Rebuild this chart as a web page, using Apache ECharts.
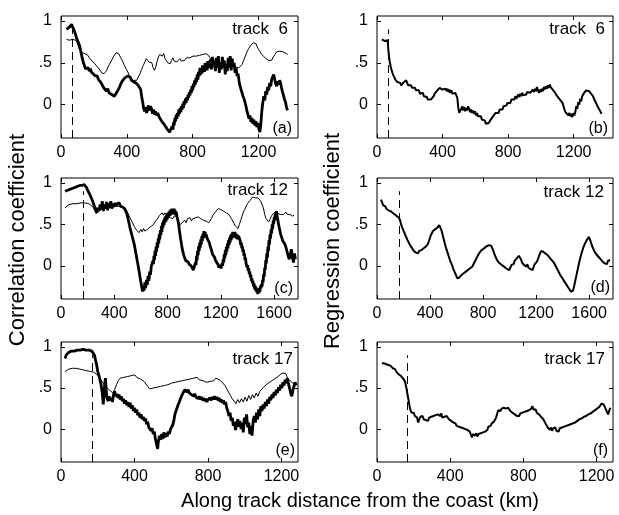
<!DOCTYPE html>
<html>
<head>
<meta charset="utf-8">
<script src="https://cdn.jsdelivr.net/npm/echarts@6/dist/echarts.min.js"></script>
<style>
  html, body { margin: 0; padding: 0; background: #fff; }
  #chart { width: 619px; height: 515px; }
</style>
</head>
<body>
<div id="chart"></div>
<script>
// distance along track (km), coefficient
var corr6Thin = [[34,.78],[42,.80],[50,.77],[60,.79],[70,.78],[80,.80],[90,.77],[98,.74],[105,.70],[112,.66],[120,.64],[128,.62],[136,.64],[145,.61],[155,.62],[163,.59],[172,.56],[180,.55],[188,.52],[196,.53],[205,.49],[214,.47],[222,.45],[230,.43],[238,.41],[246,.38],[254,.36],[262,.37],[270,.39],[278,.41],[286,.45],[294,.48],[302,.51],[310,.54],[318,.57],[326,.59],[334,.62],[342,.64],[350,.61],[358,.58],[366,.55],[374,.52],[382,.48],[390,.45],[398,.42],[406,.39],[414,.35],[422,.32],[430,.30],[440,.29],[450,.27],[460,.29],[470,.33],[480,.37],[490,.42],[500,.47],[510,.51],[518,.55],[526,.53],[534,.51],[544,.49],[552,.50],[560,.44],[568,.41],[576,.45],[584,.52],[592,.57],[600,.60],[608,.62],[616,.58],[624,.61],[632,.55],[640,.53],[648,.50],[656,.48],[664,.49],[672,.53],[680,.56],[688,.52],[696,.54],[704,.51],[712,.52],[722,.55],[732,.52],[742,.54],[752,.53],[762,.56],[772,.54],[782,.56],[792,.55],[802,.58],[812,.56],[822,.58],[832,.57],[842,.59],[852,.58],[862,.60],[872,.62],[880,.61],[888,.62],[896,.59],[904,.56],[912,.55],[920,.53],[930,.54],[940,.52],[950,.53],[960,.50],[970,.51],[980,.49],[990,.50],[1000,.48],[1010,.49],[1020,.47],[1030,.48],[1040,.46],[1050,.47],[1060,.45],[1070,.46],[1080,.44],[1090,.45],[1100,.48],[1110,.53],[1120,.58],[1130,.63],[1140,.67],[1150,.70],[1160,.72],[1168,.74],[1176,.72],[1184,.73],[1192,.69],[1200,.66],[1210,.63],[1220,.60],[1230,.58],[1240,.56],[1250,.54],[1260,.53],[1270,.52],[1280,.53],[1290,.57],[1300,.60],[1310,.63],[1320,.65],[1330,.64],[1340,.66],[1350,.63],[1360,.64],[1370,.61],[1378,.60]];

var corr6Thick = [[34,.90],[40,.92],[46,.89],[52,.93],[58,.94],[64,.96],[70,.93],[76,.91],[82,.88],[88,.84],[94,.80],[100,.77],[106,.74],[112,.71],[118,.66],[124,.60],[130,.55],[136,.50],[142,.47],[148,.43],[154,.45],[160,.41],[166,.44],[172,.40],[178,.43],[184,.39],[190,.41],[196,.37],[204,.35],[212,.33],[220,.34],[228,.30],[236,.31],[244,.26],[252,.24],[260,.20],[268,.22],[276,.16],[284,.19],[292,.14],[300,.15],[308,.12],[316,.13],[324,.10],[332,.11],[340,.15],[348,.18],[356,.21],[364,.25],[372,.28],[380,.30],[388,.32],[396,.31],[404,.34],[412,.32],[420,.33],[428,.29],[436,.31],[444,.27],[452,.29],[460,.25],[468,.24],[476,.21],[484,.18],[490,.10],[496,.03],[502,-.04],[508,-.08],[514,-.03],[520,-.10],[526,-.06],[532,-.01],[538,-.07],[544,-.02],[550,-.05],[556,-.11],[562,-.06],[568,-.12],[574,-.08],[580,-.13],[588,-.10],[596,-.15],[604,-.17],[612,-.20],[620,-.19],[628,-.24],[636,-.26],[644,-.29],[652,-.31],[660,-.33],[668,-.29],[676,-.26],[680,-.30],[684,-.21],[688,-.25],[692,-.16],[696,-.20],[700,-.12],[704,-.17],[708,-.10],[712,-.14],[716,-.06],[720,-.11],[724,-.04],[728,-.09],[732,-.02],[736,-.06],[740,.01],[744,-.04],[748,.04],[752,.00],[756,.07],[760,.02],[764,.09],[768,.05],[772,.12],[776,.08],[780,.15],[784,.11],[788,.18],[792,.14],[796,.22],[800,.17],[804,.25],[808,.21],[812,.29],[816,.24],[820,.32],[824,.27],[828,.36],[832,.30],[836,.39],[840,.34],[844,.44],[848,.36],[852,.42],[856,.37],[860,.47],[864,.40],[868,.45],[872,.39],[876,.50],[880,.43],[884,.47],[888,.41],[892,.52],[896,.44],[900,.45],[908,.54],[914,.42],[920,.57],[926,.46],[932,.52],[938,.40],[944,.56],[950,.44],[956,.58],[962,.38],[968,.50],[974,.42],[980,.57],[986,.44],[992,.53],[998,.36],[1004,.49],[1010,.40],[1016,.56],[1022,.44],[1028,.58],[1034,.41],[1040,.55],[1046,.45],[1052,.50],[1058,.38],[1064,.44],[1070,.34],[1076,.37],[1082,.28],[1088,.22],[1094,.18],[1100,.14],[1106,.10],[1112,.07],[1118,.03],[1124,-.02],[1130,-.08],[1136,-.12],[1142,-.17],[1148,-.13],[1154,-.21],[1160,-.16],[1166,-.23],[1172,-.18],[1178,-.25],[1184,-.20],[1190,-.27],[1196,-.22],[1202,-.29],[1208,-.33],[1214,-.24],[1220,-.08],[1226,.02],[1232,.10],[1238,.05],[1244,.16],[1250,.12],[1256,.21],[1262,.17],[1268,.26],[1274,.22],[1280,.30],[1286,.28],[1292,.36],[1298,.31],[1304,.25],[1310,.22],[1316,.28],[1322,.24],[1328,.29],[1334,.26],[1340,.20],[1346,.15],[1352,.11],[1358,.06],[1364,.03],[1370,-.03],[1376,-.07]];

var regr6 = [[30,.78],[36,.79],[42,.77],[48,.76],[54,.75],[60,.77],[65,.77],[69,.66],[73,.58],[78,.51],[83,.46],[88,.42],[94,.38],[100,.35],[106,.33],[112,.30],[118,.29],[124,.27],[130,.28],[136,.25],[142,.26],[148,.23],[154,.25],[160,.26],[166,.24],[172,.27],[178,.29],[184,.26],[190,.23],[196,.25],[202,.21],[208,.23],[214,.20],[220,.22],[226,.19],[232,.20],[238,.17],[244,.19],[250,.15],[256,.17],[262,.13],[268,.15],[274,.12],[280,.14],[286,.10],[292,.12],[298,.08],[304,.09],[310,.06],[316,.07],[322,.04],[328,.06],[334,.08],[340,.07],[346,.10],[352,.13],[358,.12],[364,.16],[370,.18],[376,.17],[382,.20],[388,.19],[394,.21],[400,.18],[406,.20],[412,.17],[418,.19],[424,.16],[430,.19],[436,.15],[442,.18],[448,.14],[454,.17],[460,.13],[466,.15],[472,.12],[478,.14],[484,.11],[490,.08],[496,-.04],[502,-.10],[508,-.12],[514,-.05],[520,-.02],[526,-.07],[532,-.03],[538,-.08],[544,-.04],[550,-.07],[556,-.02],[562,-.05],[568,-.09],[574,-.06],[580,-.10],[586,-.07],[592,-.11],[598,-.08],[604,-.13],[610,-.10],[616,-.14],[622,-.12],[628,-.16],[634,-.14],[640,-.18],[646,-.17],[652,-.20],[658,-.19],[664,-.23],[670,-.21],[676,-.25],[682,-.22],[688,-.20],[694,-.18],[700,-.16],[706,-.17],[712,-.13],[718,-.14],[724,-.10],[730,-.12],[736,-.08],[742,-.10],[748,-.06],[754,-.08],[760,-.04],[766,-.06],[772,-.02],[778,-.03],[784,.00],[790,-.01],[796,.02],[802,.01],[808,.04],[814,.02],[820,.06],[826,.04],[832,.08],[838,.06],[844,.10],[850,.07],[856,.09],[862,.12],[868,.09],[874,.13],[880,.10],[886,.14],[892,.11],[898,.13],[904,.09],[910,.12],[916,.15],[922,.13],[928,.17],[934,.14],[940,.16],[946,.13],[952,.18],[958,.15],[964,.19],[970,.16],[976,.21],[982,.17],[988,.14],[994,.18],[1000,.15],[1006,.19],[1012,.16],[1018,.21],[1024,.18],[1030,.22],[1036,.19],[1042,.23],[1048,.20],[1054,.24],[1060,.21],[1066,.22],[1072,.18],[1078,.19],[1084,.15],[1090,.13],[1096,.11],[1102,.12],[1108,.08],[1114,.09],[1120,.05],[1126,.06],[1132,.02],[1138,-.02],[1144,-.06],[1150,-.09],[1156,-.11],[1162,-.08],[1168,-.13],[1174,-.10],[1180,-.14],[1186,-.11],[1192,-.15],[1198,-.10],[1204,-.13],[1210,-.09],[1216,-.02],[1222,-.05],[1228,.03],[1234,.00],[1240,.07],[1246,.04],[1252,.10],[1258,.08],[1264,.14],[1270,.12],[1276,.17],[1282,.15],[1288,.19],[1294,.16],[1300,.17],[1306,.13],[1312,.14],[1318,.10],[1324,.07],[1330,.05],[1336,.02],[1342,.00],[1348,-.03],[1354,-.04],[1360,-.07],[1366,-.09],[1370,-.11]];

var corr12Thin = [[30,.70],[45,.72],[60,.74],[75,.73],[90,.75],[105,.76],[120,.75],[135,.77],[150,.76],[165,.78],[180,.76],[195,.77],[210,.75],[225,.74],[240,.71],[255,.66],[265,.63],[275,.65],[285,.68],[300,.66],[315,.70],[330,.69],[345,.72],[360,.71],[375,.74],[390,.73],[405,.75],[420,.72],[435,.74],[450,.72],[465,.73],[480,.70],[495,.66],[510,.61],[525,.56],[540,.51],[555,.46],[570,.43],[585,.40],[600,.44],[610,.41],[620,.45],[630,.42],[640,.40],[650,.44],[660,.42],[670,.47],[680,.45],[690,.49],[700,.51],[710,.54],[720,.55],[730,.58],[740,.61],[750,.63],[760,.64],[770,.61],[780,.64],[790,.62],[800,.60],[810,.62],[820,.58],[830,.60],[840,.57],[850,.60],[860,.62],[870,.60],[880,.55],[890,.49],[900,.47],[910,.52],[920,.50],[930,.55],[940,.52],[950,.57],[960,.55],[970,.58],[980,.54],[990,.57],[1000,.55],[1010,.58],[1020,.56],[1030,.59],[1040,.60],[1050,.57],[1060,.59],[1070,.55],[1080,.57],[1090,.54],[1100,.55],[1110,.52],[1120,.53],[1130,.57],[1140,.61],[1150,.63],[1160,.65],[1170,.67],[1180,.69],[1190,.70],[1200,.68],[1210,.69],[1220,.66],[1230,.67],[1240,.64],[1250,.65],[1260,.62],[1270,.61],[1280,.57],[1290,.54],[1300,.51],[1310,.48],[1320,.47],[1330,.45],[1340,.50],[1350,.55],[1360,.60],[1370,.65],[1380,.68],[1390,.72],[1400,.75],[1410,.77],[1420,.79],[1430,.81],[1440,.83],[1450,.84],[1460,.82],[1470,.84],[1480,.82],[1490,.80],[1500,.78],[1510,.76],[1520,.70],[1530,.62],[1540,.57],[1550,.55],[1560,.53],[1570,.56],[1580,.60],[1590,.62],[1600,.64],[1610,.62],[1620,.66],[1630,.63],[1640,.65],[1650,.62],[1660,.64],[1670,.62],[1680,.64],[1690,.65],[1700,.62],[1710,.64],[1720,.62],[1730,.63],[1740,.60],[1750,.61]];

var corr12Thick = [[30,.90],[38,.92],[46,.91],[54,.93],[62,.92],[70,.94],[78,.93],[86,.95],[94,.94],[102,.96],[110,.95],[118,.97],[126,.96],[134,.98],[142,.97],[150,.99],[158,.97],[166,.99],[174,.98],[182,.97],[190,.95],[198,.92],[206,.90],[214,.87],[222,.84],[230,.81],[238,.78],[246,.74],[254,.72],[262,.68],[270,.64],[278,.70],[286,.66],[294,.74],[302,.68],[310,.78],[318,.66],[326,.74],[334,.69],[342,.77],[350,.67],[358,.76],[366,.70],[374,.78],[382,.69],[390,.75],[398,.71],[406,.76],[414,.72],[422,.75],[430,.73],[438,.76],[446,.72],[454,.74],[462,.71],[470,.73],[478,.69],[486,.67],[494,.63],[502,.58],[510,.52],[518,.46],[526,.41],[534,.36],[542,.31],[550,.26],[558,.19],[566,.12],[574,.05],[582,-.02],[590,-.10],[598,-.18],[606,-.25],[612,-.31],[618,-.26],[624,-.30],[630,-.20],[636,-.27],[642,-.17],[648,-.23],[654,-.12],[660,-.18],[666,-.07],[672,-.11],[678,-.01],[684,-.03],[690,.06],[694,.02],[698,.12],[702,.07],[706,.18],[710,.12],[714,.23],[718,.17],[722,.28],[726,.22],[730,.33],[734,.27],[738,.38],[742,.32],[746,.43],[750,.37],[754,.48],[758,.41],[762,.52],[766,.46],[770,.55],[774,.49],[778,.58],[782,.52],[786,.60],[790,.54],[794,.62],[798,.56],[802,.64],[806,.58],[810,.65],[814,.60],[818,.67],[822,.61],[826,.68],[830,.62],[834,.69],[838,.63],[842,.68],[846,.62],[850,.69],[854,.63],[858,.67],[862,.61],[866,.65],[870,.60],[874,.62],[882,.52],[890,.42],[898,.33],[906,.25],[914,.18],[922,.13],[930,.09],[938,.06],[946,.04],[954,.05],[962,.02],[970,.03],[978,.00],[986,-.02],[994,-.05],[1002,-.03],[1010,.04],[1014,.01],[1018,.12],[1022,.07],[1026,.18],[1030,.13],[1034,.24],[1038,.18],[1042,.28],[1046,.22],[1050,.32],[1054,.26],[1058,.36],[1062,.30],[1066,.39],[1070,.33],[1074,.42],[1078,.36],[1082,.41],[1086,.35],[1090,.38],[1098,.33],[1106,.35],[1114,.28],[1122,.23],[1130,.19],[1138,.14],[1146,.16],[1154,.10],[1162,.06],[1170,.08],[1178,.02],[1186,-.02],[1194,.01],[1202,-.03],[1210,.03],[1214,.00],[1218,.08],[1222,.04],[1226,.14],[1230,.09],[1234,.19],[1238,.13],[1242,.23],[1246,.17],[1250,.27],[1254,.21],[1258,.31],[1262,.25],[1266,.34],[1270,.28],[1274,.37],[1278,.31],[1282,.39],[1286,.33],[1290,.41],[1294,.35],[1298,.40],[1302,.34],[1306,.41],[1310,.35],[1314,.39],[1318,.33],[1322,.38],[1326,.32],[1334,.36],[1340,.33],[1346,.30],[1350,.25],[1354,.28],[1358,.21],[1362,.24],[1366,.17],[1370,.20],[1374,.12],[1378,.15],[1382,.07],[1386,.10],[1390,.03],[1394,.05],[1398,-.02],[1402,.01],[1406,-.06],[1410,-.03],[1414,-.10],[1418,-.07],[1422,-.14],[1426,-.11],[1430,-.18],[1434,-.15],[1438,-.21],[1442,-.18],[1446,-.25],[1450,-.21],[1454,-.28],[1458,-.24],[1462,-.30],[1466,-.26],[1470,-.32],[1474,-.28],[1478,-.34],[1482,-.30],[1486,-.33],[1490,-.27],[1494,-.31],[1498,-.24],[1502,-.27],[1506,-.22],[1510,-.25],[1514,-.17],[1518,-.20],[1522,-.10],[1526,-.13],[1530,-.02],[1534,-.05],[1538,.07],[1542,.03],[1546,.15],[1550,.10],[1554,.23],[1558,.18],[1562,.31],[1566,.26],[1570,.38],[1574,.33],[1578,.44],[1582,.39],[1586,.50],[1590,.45],[1594,.55],[1598,.51],[1602,.59],[1606,.55],[1610,.63],[1614,.59],[1618,.66],[1622,.61],[1628,.56],[1634,.50],[1642,.44],[1650,.38],[1658,.34],[1666,.30],[1674,.32],[1682,.26],[1690,.22],[1698,.17],[1706,.12],[1714,.08],[1722,.14],[1730,.20],[1738,.10],[1746,.04],[1754,.15],[1760,.08]];

var regr12 = [[30,.80],[38,.77],[46,.73],[54,.71],[62,.72],[70,.69],[78,.70],[86,.67],[94,.68],[102,.66],[110,.67],[118,.64],[126,.65],[134,.62],[142,.63],[150,.60],[158,.61],[166,.58],[174,.55],[182,.50],[190,.46],[198,.43],[206,.40],[214,.37],[222,.34],[230,.31],[238,.29],[246,.26],[254,.24],[262,.22],[270,.20],[278,.18],[286,.19],[294,.16],[302,.17],[310,.15],[318,.18],[326,.16],[334,.19],[342,.17],[350,.21],[358,.19],[366,.23],[374,.22],[382,.26],[390,.29],[398,.33],[406,.37],[414,.39],[422,.42],[430,.41],[438,.44],[446,.43],[454,.46],[462,.45],[470,.49],[478,.47],[486,.43],[494,.38],[502,.33],[510,.28],[518,.23],[526,.19],[534,.15],[542,.11],[550,.07],[558,.04],[566,.01],[574,-.03],[582,-.06],[590,-.09],[598,-.12],[606,-.15],[614,-.17],[622,-.14],[630,-.15],[638,-.11],[646,-.12],[654,-.09],[662,-.10],[670,-.07],[678,-.08],[686,-.05],[694,-.06],[702,-.03],[710,-.04],[718,-.01],[726,.01],[734,.04],[742,.06],[750,.09],[758,.11],[766,.14],[774,.16],[782,.18],[790,.17],[798,.20],[806,.19],[814,.22],[822,.21],[830,.24],[838,.22],[846,.25],[854,.23],[862,.24],[870,.21],[878,.18],[886,.14],[894,.11],[902,.08],[910,.07],[918,.04],[926,.05],[934,.02],[942,.03],[950,.00],[958,.01],[966,-.02],[974,-.01],[982,-.04],[990,-.02],[998,-.05],[1006,-.02],[1014,.01],[1022,.03],[1030,.02],[1038,.06],[1046,.05],[1054,.09],[1062,.07],[1070,.12],[1078,.10],[1086,.08],[1094,.04],[1102,.06],[1110,.01],[1118,.03],[1126,-.01],[1134,.02],[1142,-.02],[1150,.00],[1158,-.04],[1166,-.02],[1174,-.05],[1182,-.01],[1190,.02],[1198,.01],[1206,.05],[1214,.08],[1222,.12],[1230,.15],[1238,.18],[1246,.20],[1254,.17],[1262,.18],[1270,.15],[1278,.16],[1286,.13],[1294,.14],[1302,.10],[1310,.11],[1318,.07],[1326,.08],[1334,.04],[1342,.02],[1350,-.01],[1358,-.03],[1366,-.06],[1374,-.08],[1382,-.11],[1390,-.13],[1398,-.15],[1406,-.17],[1414,-.19],[1422,-.21],[1430,-.23],[1438,-.25],[1446,-.27],[1454,-.29],[1462,-.31],[1470,-.33],[1478,-.30],[1486,-.25],[1494,-.19],[1502,-.13],[1510,-.07],[1518,-.01],[1526,.05],[1534,.10],[1542,.15],[1550,.19],[1558,.23],[1566,.26],[1574,.28],[1582,.31],[1590,.33],[1598,.35],[1606,.32],[1614,.28],[1622,.24],[1630,.21],[1638,.18],[1646,.19],[1654,.14],[1662,.15],[1670,.11],[1678,.12],[1686,.08],[1694,.10],[1702,.05],[1710,.07],[1718,.03],[1726,.05],[1734,.02],[1742,.06],[1750,.04],[1758,.07]];

var corr17Thin = [[22,.70],[32,.72],[42,.73],[52,.72],[62,.74],[72,.73],[82,.74],[92,.72],[102,.73],[112,.71],[122,.72],[132,.70],[142,.71],[152,.69],[162,.70],[172,.68],[182,.69],[192,.67],[202,.65],[212,.62],[222,.58],[232,.55],[242,.52],[252,.50],[262,.48],[272,.46],[282,.44],[292,.48],[302,.54],[312,.59],[322,.62],[332,.60],[342,.63],[352,.61],[362,.64],[372,.62],[382,.65],[392,.63],[402,.66],[412,.63],[422,.64],[432,.61],[442,.62],[452,.58],[462,.56],[472,.52],[482,.49],[492,.47],[502,.50],[512,.48],[522,.51],[532,.49],[542,.52],[552,.50],[562,.53],[572,.51],[582,.54],[592,.52],[602,.56],[612,.54],[622,.57],[632,.55],[642,.58],[652,.56],[662,.59],[672,.57],[682,.60],[692,.58],[702,.61],[712,.59],[722,.62],[732,.60],[742,.63],[752,.60],[762,.62],[772,.59],[782,.61],[792,.57],[802,.55],[812,.58],[822,.56],[832,.59],[842,.62],[852,.64],[862,.60],[872,.58],[882,.56],[892,.53],[902,.49],[912,.45],[922,.41],[932,.37],[942,.34],[952,.31],[962,.36],[972,.32],[982,.37],[992,.33],[1002,.39],[1012,.34],[1022,.41],[1032,.36],[1042,.42],[1052,.38],[1062,.44],[1072,.40],[1082,.46],[1092,.48],[1102,.51],[1112,.53],[1122,.55],[1132,.57],[1142,.58],[1152,.60],[1162,.61],[1172,.63],[1182,.64],[1192,.66],[1202,.68],[1212,.70],[1222,.68],[1232,.63],[1242,.60],[1252,.58],[1262,.56],[1272,.55]];

var corr17Thick = [[22,.86],[28,.90],[34,.92],[40,.93],[48,.94],[56,.95],[64,.96],[72,.95],[80,.97],[88,.96],[96,.97],[104,.96],[112,.98],[120,.97],[128,.98],[136,.96],[144,.97],[152,.96],[160,.97],[168,.95],[176,.93],[182,.90],[188,.84],[194,.78],[200,.70],[206,.66],[212,.60],[218,.54],[224,.45],[230,.30],[234,.42],[238,.55],[242,.62],[246,.48],[250,.38],[256,.34],[262,.40],[268,.35],[274,.38],[280,.33],[286,.42],[292,.46],[298,.40],[304,.43],[310,.38],[316,.42],[322,.36],[328,.40],[334,.34],[340,.37],[346,.31],[352,.35],[358,.29],[364,.33],[370,.27],[376,.32],[382,.25],[388,.29],[394,.22],[400,.26],[406,.20],[412,.24],[418,.17],[424,.20],[430,.14],[436,.18],[442,.12],[448,.15],[454,.10],[460,.13],[466,.06],[472,.09],[478,.02],[484,.04],[490,-.02],[496,.01],[502,-.06],[508,-.03],[514,-.12],[520,-.18],[526,-.24],[530,-.15],[536,-.08],[542,-.13],[548,-.06],[554,-.12],[560,-.04],[566,-.10],[572,-.05],[578,-.09],[584,-.03],[590,-.06],[596,.00],[602,-.02],[608,.05],[614,.10],[620,.18],[626,.22],[632,.26],[638,.30],[644,.33],[650,.37],[656,.40],[662,.43],[668,.45],[674,.48],[680,.47],[686,.45],[692,.48],[698,.44],[704,.46],[710,.42],[716,.44],[722,.40],[728,.43],[734,.39],[740,.41],[746,.37],[752,.40],[758,.36],[764,.39],[770,.35],[776,.38],[782,.34],[788,.37],[794,.33],[800,.36],[806,.34],[812,.38],[818,.35],[824,.39],[830,.36],[836,.40],[842,.36],[848,.39],[854,.35],[860,.38],[866,.33],[872,.36],[878,.32],[884,.35],[890,.30],[896,.33],[902,.26],[908,.22],[914,.16],[920,.20],[926,.10],[932,.14],[938,.04],[944,.09],[950,-.01],[956,.05],[962,.12],[968,.03],[974,.10],[980,.00],[986,.08],[992,-.04],[998,.14],[1004,.06],[1010,.18],[1016,.02],[1022,.08],[1028,-.06],[1034,.04],[1040,-.08],[1046,.10],[1052,.16],[1058,.08],[1064,.20],[1070,.12],[1076,.24],[1082,.16],[1088,.28],[1094,.22],[1100,.30],[1106,.25],[1112,.33],[1118,.28],[1124,.36],[1130,.31],[1136,.39],[1142,.35],[1148,.42],[1154,.38],[1160,.45],[1166,.41],[1172,.48],[1178,.44],[1184,.51],[1190,.47],[1196,.54],[1202,.50],[1208,.57],[1214,.53],[1220,.60],[1226,.56],[1232,.62],[1238,.55],[1244,.50],[1250,.44],[1256,.40],[1262,.47],[1268,.52],[1274,.57],[1280,.53]];

var regr17 = [[27,.80],[33,.79],[39,.80],[45,.78],[51,.79],[57,.77],[63,.78],[69,.76],[75,.77],[81,.75],[87,.74],[93,.72],[99,.73],[105,.70],[111,.69],[117,.67],[123,.68],[129,.65],[135,.64],[141,.62],[147,.60],[153,.58],[159,.52],[163,.47],[167,.42],[171,.37],[175,.32],[179,.27],[183,.23],[189,.20],[195,.18],[201,.20],[207,.16],[213,.18],[219,.14],[225,.08],[231,.12],[237,.15],[243,.13],[249,.16],[255,.12],[261,.14],[267,.11],[273,.13],[279,.10],[285,.14],[291,.12],[297,.15],[303,.13],[309,.16],[315,.14],[321,.17],[327,.15],[333,.18],[339,.20],[345,.16],[351,.19],[357,.14],[363,.12],[369,.15],[375,.13],[381,.16],[387,.14],[393,.12],[399,.13],[405,.10],[411,.11],[417,.08],[423,.06],[429,.07],[435,.04],[441,.06],[447,.03],[453,.05],[459,.02],[465,.04],[471,.01],[477,.03],[483,.00],[489,.02],[495,-.01],[501,.01],[507,-.03],[513,-.02],[519,-.10],[525,-.06],[531,-.04],[537,-.08],[543,-.05],[549,-.09],[555,-.06],[561,-.08],[567,-.05],[573,-.07],[579,-.04],[585,-.06],[591,-.03],[597,-.05],[603,-.01],[609,.03],[615,.05],[621,.04],[627,.07],[633,.06],[639,.09],[645,.10],[651,.14],[657,.19],[663,.23],[669,.24],[675,.22],[681,.25],[687,.23],[693,.26],[699,.24],[705,.25],[711,.23],[717,.26],[723,.24],[729,.22],[735,.23],[741,.20],[747,.21],[753,.18],[759,.19],[765,.16],[771,.18],[777,.16],[783,.19],[789,.17],[795,.20],[801,.18],[807,.21],[813,.19],[819,.22],[825,.20],[831,.23],[837,.21],[843,.25],[849,.28],[855,.24],[861,.22],[867,.24],[873,.20],[879,.21],[885,.18],[891,.19],[897,.15],[903,.16],[909,.12],[915,.10],[921,.07],[927,.05],[933,.02],[939,.03],[945,-.01],[951,.02],[957,-.02],[963,.01],[969,-.01],[975,.02],[981,-.02],[987,.00],[993,-.03],[999,.01],[1005,-.01],[1011,.02],[1017,.00],[1023,.03],[1029,.01],[1035,.04],[1041,.02],[1047,.05],[1053,.03],[1059,.06],[1065,.04],[1071,.07],[1077,.05],[1083,.08],[1089,.07],[1095,.10],[1101,.09],[1107,.12],[1113,.10],[1119,.13],[1125,.12],[1131,.15],[1137,.13],[1143,.16],[1149,.15],[1155,.18],[1161,.16],[1167,.19],[1173,.18],[1179,.21],[1185,.20],[1191,.23],[1197,.22],[1203,.25],[1209,.24],[1215,.27],[1221,.28],[1227,.31],[1233,.29],[1239,.30],[1245,.27],[1251,.24],[1257,.22],[1263,.18],[1269,.22],[1275,.26]];

var xTicks6 = [0, 400, 800, 1200];
var xTicks12 = [0, 400, 800, 1200, 1600];
var xTicks17 = [0, 400, 800, 1200];
var yTicks = [0, 0.5, 1];
var coastKm = [70, 70, 170, 170, 168, 165];
var trackNames = ['track  6', 'track  6', 'track 12', 'track 12', 'track 17', 'track 17'];
var panelTags = ['(a)', '(b)', '(c)', '(d)', '(e)', '(f)'];

var fontFam = '"Liberation Sans", Arial, Helvetica, sans-serif';
var yMin = -0.4, yMax = 1.06, dashTop = 0.9;

var panels = [
  { box: [61, 16, 237, 122], xMax: 1440, ticks: xTicks6, lines: [[corr6Thin, 1], [corr6Thick, 2.8]] },
  { box: [377, 16, 236, 122], xMax: 1440, ticks: xTicks6, lines: [[regr6, 2]] },
  { box: [61, 178, 237, 121], xMax: 1780, ticks: xTicks12, lines: [[corr12Thin, 1], [corr12Thick, 2.8]] },
  { box: [377, 178, 236, 121], xMax: 1780, ticks: xTicks12, lines: [[regr12, 2]] },
  { box: [61, 342, 237, 120], xMax: 1290, ticks: xTicks17, lines: [[corr17Thin, 1], [corr17Thick, 2.8]] },
  { box: [377, 342, 236, 120], xMax: 1290, ticks: xTicks17, lines: [[regr17, 2]] }
];
var trackPos = [[288, 21], [605, 21], [288, 182], [604, 184], [293, 351], [605, 351]];
var tagPos = [[292, 121], [608, 121], [293, 281], [610, 280], [295, 443], [608, 443]];

var grids = [], xAxes = [], yAxes = [], series = [], graphics = [];

function tickCfg(vals) {
  return { show: true, inside: true, length: 4, customValues: vals, lineStyle: { color: '#000', width: 1 } };
}

panels.forEach(function(p, i) {
  grids.push({ left: p.box[0], top: p.box[1], width: p.box[2], height: p.box[3],
    show: true, borderColor: '#000', borderWidth: 1, backgroundColor: 'transparent' });
  ['bottom', 'top'].forEach(function(pos) {
    xAxes.push({
      type: 'value', gridIndex: i, min: 0, max: p.xMax, position: pos,
      axisLine: { show: false, onZero: false },
      axisTick: tickCfg(p.ticks),
      axisLabel: { show: pos === 'bottom', customValues: p.ticks, margin: 7, color: '#000',
        fontSize: 16, fontFamily: fontFam,
        formatter: function(v) { return String(v); } },
      splitLine: { show: false }
    });
  });
  ['left', 'right'].forEach(function(pos) {
    yAxes.push({
      type: 'value', gridIndex: i, min: yMin, max: yMax, position: pos,
      axisLine: { show: false, onZero: false },
      axisTick: tickCfg(yTicks),
      axisLabel: { show: pos === 'left', customValues: yTicks, margin: 9, color: '#000',
        fontSize: 16, fontFamily: fontFam,
        formatter: function(v) { return v === 0.5 ? '.5' : String(v); } },
      splitLine: { show: false }
    });
  });
  p.lines.forEach(function(l, k) {
    var s = {
      type: 'line', xAxisIndex: i * 2, yAxisIndex: i * 2, data: l[0],
      showSymbol: false, symbol: 'none', silent: true,
      lineStyle: { color: '#000', width: l[1] }
    };
    if (k === 0) {
      s.markLine = {
        silent: true, symbol: 'none', label: { show: false },
        lineStyle: { color: '#000', width: 1, type: [8, 5] },
        data: [[{ coord: [coastKm[i], yMin] }, { coord: [coastKm[i], dashTop] }]]
      };
    }
    series.push(s);
  });
  graphics.push({ type: 'text', x: trackPos[i][0], y: trackPos[i][1], silent: true,
    style: { text: trackNames[i], fill: '#000', font: '17px ' + fontFam, textAlign: 'right', textVerticalAlign: 'top' } });
  graphics.push({ type: 'text', x: tagPos[i][0], y: tagPos[i][1], silent: true,
    style: { text: panelTags[i], fill: '#000', font: '16px ' + fontFam, textAlign: 'right', textVerticalAlign: 'top' } });
});

graphics.push({ type: 'text', x: 18, y: 240, rotation: Math.PI / 2, silent: true,
  style: { text: 'Correlation coefficient', fill: '#000', font: '22px ' + fontFam, textAlign: 'center', textVerticalAlign: 'middle' } });
graphics.push({ type: 'text', x: 333, y: 241, rotation: Math.PI / 2, silent: true,
  style: { text: 'Regression coefficient', fill: '#000', font: '22px ' + fontFam, textAlign: 'center', textVerticalAlign: 'middle' } });
graphics.push({ type: 'text', x: 360, y: 501, silent: true,
  style: { text: 'Along track distance from the coast (km)', fill: '#000', font: '20px ' + fontFam, textAlign: 'center', textVerticalAlign: 'middle' } });

var chart = echarts.init(document.getElementById('chart'), null, { renderer: 'canvas' });
chart.setOption({
  animation: false,
  backgroundColor: '#fff',
  grid: grids,
  xAxis: xAxes,
  yAxis: yAxes,
  series: series,
  graphic: graphics
});
window.addEventListener('resize', function() { chart.resize(); });
</script>
</body>
</html>
